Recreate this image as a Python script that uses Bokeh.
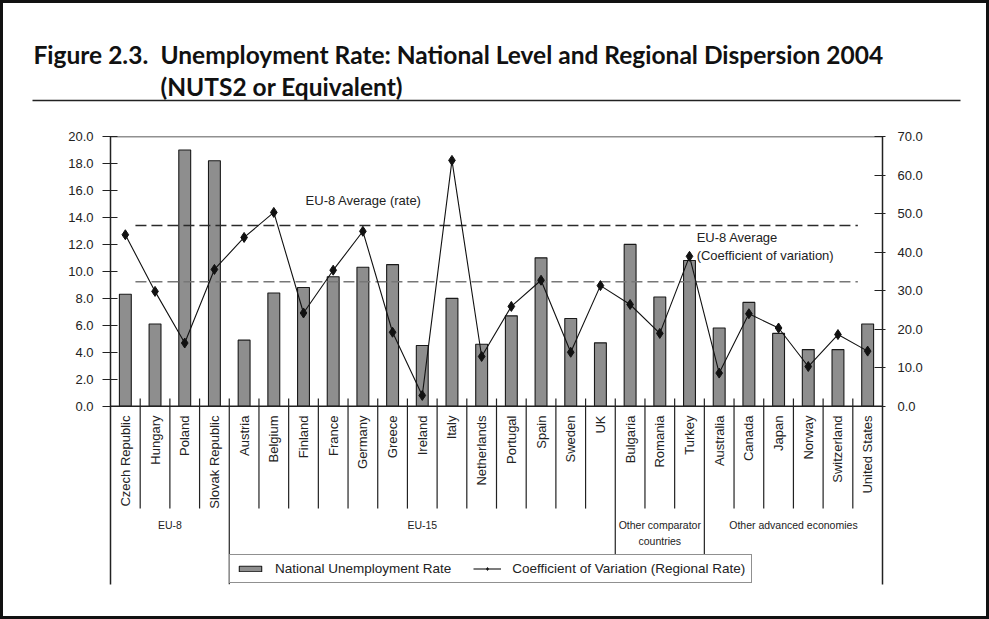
import numpy as np
from bokeh.plotting import figure
from bokeh.models import (Range1d, LinearAxis, FixedTicker, PrintfTickFormatter,
                          Span, Legend, LegendItem, InlineStyleSheet)
from bokeh.layouts import column
from bokeh.core.properties import value
from bokeh.embed import file_html
from bokeh.resources import INLINE

# ---------------- data ----------------
title_number = "Figure 2.3."
title_line1 = "Unemployment Rate: National Level and Regional Dispersion 2004"
title_line2 = "(NUTS2 or Equivalent)"

countries = ["Czech Republic", "Hungary", "Poland", "Slovak Republic",
             "Austria", "Belgium", "Finland", "France", "Germany", "Greece",
             "Ireland", "Italy", "Netherlands", "Portugal", "Spain", "Sweden", "UK",
             "Bulgaria", "Romania", "Turkey",
             "Australia", "Canada", "Japan", "Norway", "Switzerland", "United States"]
unemployment_rate = [8.3, 6.1, 19.0, 18.2,
                     4.9, 8.4, 8.8, 9.6, 10.3, 10.5, 4.5, 8.0, 4.6, 6.7, 11.0, 6.5, 4.7,
                     12.0, 8.1, 10.8,
                     5.8, 7.7, 5.4, 4.2, 4.2, 6.1]
coef_variation = [44.5, 29.8, 16.4, 35.5,
                  43.8, 50.3, 24.2, 35.3, 45.4, 19.2, 2.8, 63.8, 12.9, 25.9, 32.7, 14.0, 31.3,
                  26.4, 18.9, 38.9,
                  8.6, 24.0, 20.3, 10.3, 18.6, 14.3]
group_names = ["EU-8", "EU-15", "Other comparator\ncountries", "Other advanced economies"]
group_sizes = [4, 13, 3, 6]
eu8_avg_rate = 13.4
eu8_avg_cv = 32.3
left_ticks = [0, 2, 4, 6, 8, 10, 12, 14, 16, 18, 20]
right_ticks = [0, 10, 20, 30, 40, 50, 60, 70]
legend_labels = ["National Unemployment Rate", "Coefficient of Variation (Regional Rate)"]
avg_rate_label = "EU-8 Average (rate)"
avg_cv_label = "EU-8 Average\n(Coefficient of variation)"

# ---------------- layout constants ----------------
W = 989
H_HEAD = 110
H_MAIN = 509
Y_TOP = 20.0
Y_BOT = -13.22
FONT = "Liberation Sans"
TXT = "#222222"


def no_align(fig):
    try:
        fig.frame_align = False
    except Exception:
        pass


# ---------------- header ----------------
head = figure(width=W, height=H_HEAD, x_range=Range1d(0, W), y_range=Range1d(H_HEAD, 0),
              output_backend="svg", toolbar_location=None,
              x_axis_location=None, y_axis_location=None, min_border=0,
              outline_line_color=None)
no_align(head)
head.grid.visible = False
tkw = dict(text_font=value("Lato"), text_font_style="bold", text_font_size="24.5px",
           text_baseline="alphabetic", text_color="#111111")
head.text(x=[33], y=[54], text=[title_number], **tkw)
head.text(x=[160], y=[54], text=[title_line1], **tkw)
head.text(x=[160], y=[86], text=[title_line2], **tkw)
head.segment(x0=[32], y0=[100], x1=[960], y1=[100], line_color="#222222", line_width=1.5)

# ---------------- main chart ----------------
n = len(countries)
xs = np.arange(n) + 0.5

p = figure(width=W, height=H_MAIN, x_range=Range1d(0, n), y_range=Range1d(Y_BOT, Y_TOP),
           output_backend="svg", toolbar_location=None, x_axis_location=None,
           min_border_left=110, min_border_right=107, min_border_top=26, min_border_bottom=35,
           outline_line_color=None)
no_align(p)
p.grid.visible = False
p.extra_y_ranges = {"cv": Range1d(70 * Y_BOT / Y_TOP, 70)}

yl = p.yaxis[0]
yl.ticker = FixedTicker(ticks=left_ticks)
yl.formatter = PrintfTickFormatter(format="%.1f")
yl.minor_tick_line_color = None
yl.major_tick_in = 7
yl.major_tick_out = 8
yl.major_label_standoff = 9
yl.axis_line_width = 1.5
yl.axis_line_color = TXT
yl.major_tick_line_color = TXT
yl.major_tick_line_width = 1.2
yl.major_label_text_font = FONT
yl.major_label_text_font_size = "13px"
yl.major_label_text_color = TXT

yr = LinearAxis(y_range_name="cv", ticker=FixedTicker(ticks=right_ticks),
                formatter=PrintfTickFormatter(format="%.1f"))
yr.minor_tick_line_color = None
yr.major_tick_in = 8
yr.major_tick_out = 3
yr.major_label_standoff = 12
yr.axis_line_width = 1.5
yr.axis_line_color = TXT
yr.major_tick_line_color = TXT
yr.major_tick_line_width = 1.2
yr.major_label_text_font = FONT
yr.major_label_text_font_size = "13px"
yr.major_label_text_color = TXT
p.add_layout(yr, "right")

p.add_layout(Span(location=0, dimension="width", line_color=TXT, line_width=1.5))
p.add_layout(Span(location=Y_TOP, dimension="width", line_color=TXT, line_width=1.5))

# separators between categories and groups
edges = np.cumsum(group_sizes)
group_edges = list(edges[:-1])
cat_edges = [b for b in range(1, n) if b not in group_edges]
p.segment(x0=cat_edges, y0=[0.57] * len(cat_edges), x1=cat_edges, y1=[-7.59] * len(cat_edges),
          line_color=TXT, line_width=1.2)
p.segment(x0=[group_edges[0]], y0=[0.57], x1=[group_edges[0]], y1=[Y_BOT],
          line_color=TXT, line_width=1.2)
p.segment(x0=group_edges[1:], y0=[0.57] * 2, x1=group_edges[1:], y1=[-11.29] * 2,
          line_color=TXT, line_width=1.2)

# bars
bars = p.vbar(x=xs, top=unemployment_rate, bottom=0, width=0.4,
              fill_color="#8e8e8e", line_color="#1a1a1a", line_width=1.1)

# average lines
p.segment(x0=[0.84], x1=[25.17], y0=[eu8_avg_rate], y1=[eu8_avg_rate],
          line_color="#2a2a2a", line_width=1.3, line_dash="11 5")
p.segment(x0=[0.84], x1=[25.17], y0=[eu8_avg_cv], y1=[eu8_avg_cv], y_range_name="cv",
          line_color="#777777", line_width=1.3, line_dash="11 5")

# coefficient of variation
cv_line = p.line(xs, coef_variation, y_range_name="cv", line_color="#111111", line_width=1.1)
cv_pts = p.scatter(xs, coef_variation, y_range_name="cv", marker="diamond", size=10,
                   fill_color="#111111", line_color="#111111")

# category labels
p.text(x=xs, y=[-0.69] * n, text=countries, angle=np.pi / 2, text_align="right",
       text_baseline="middle", text_font=value(FONT), text_font_size="13px", text_color=TXT)

# group labels
starts = np.concatenate([[0], edges[:-1]])
centers = (starts + edges) / 2.0
p.text(x=centers, y=[-8.33] * len(centers), text=group_names, text_align="center",
       text_baseline="top", text_font=value(FONT), text_font_size="10.5px",
       text_line_height=1.33, text_color=TXT)

# average labels
p.text(x=[6.57], y=[15.29], text=[avg_rate_label], text_align="left", text_baseline="middle",
       text_font=value(FONT), text_font_size="13px", text_color=TXT)
p.text(x=[19.74], y=[13.1], text=[avg_cv_label], text_align="left", text_baseline="top",
       text_font=value(FONT), text_font_size="13px", text_line_height=1.2, text_color=TXT)

legend = Legend(items=[LegendItem(label=legend_labels[0], renderers=[bars]),
                       LegendItem(label=legend_labels[1], renderers=[cv_line, cv_pts])],
                location=(119, 1), orientation="horizontal", padding=6, spacing=22, margin=0,
                glyph_width=28, glyph_height=7, label_standoff=11, label_height=12,
                label_text_font=FONT, label_text_font_size="13.5px", label_text_color=TXT,
                border_line_color=TXT, border_line_width=1.2, background_fill_alpha=1.0)
p.add_layout(legend)

layout = column(head, p, spacing=0)
layout.stylesheets = [InlineStyleSheet(css=(
    ":host { position: relative; }"
    ":host::after { content: ''; position: absolute; left: 0; top: 0; width: 989px; height: 619px;"
    " box-sizing: border-box; border: 3px solid #111111; pointer-events: none; z-index: 100; }"))]

open("out.html", "w").write(file_html(layout, INLINE))
